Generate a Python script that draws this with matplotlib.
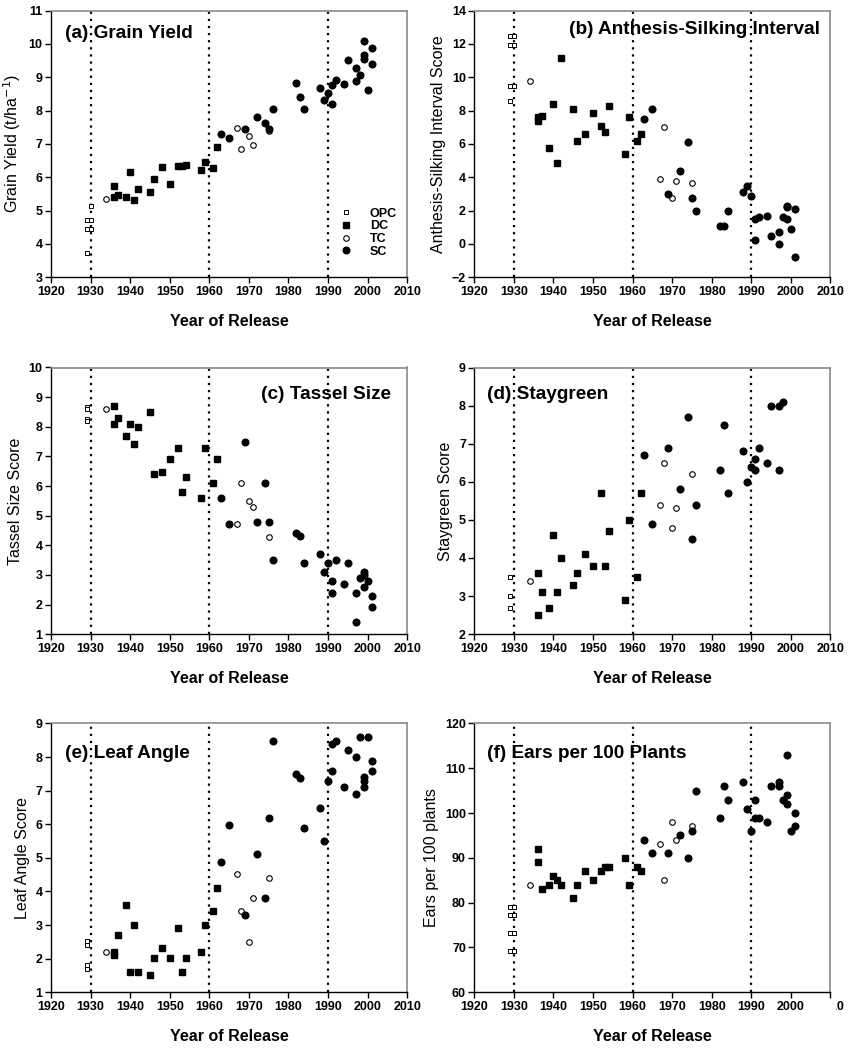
import matplotlib
matplotlib.use('Agg')
import matplotlib.pyplot as plt
from matplotlib.transforms import Bbox, TransformedBbox

plt.rcParams['font.family'] = ['Liberation Sans', 'DejaVu Sans']

# ---- (a) Grain yield ----
gy_opc_x = [1929, 1929, 1929, 1930, 1930, 1930]
gy_opc_y = [4.72, 4.45, 3.72, 5.15, 4.72, 4.45]
gy_dc_x = [1936, 1936, 1937, 1939, 1940, 1941, 1942, 1945, 1946, 1948, 1950, 1952, 1953, 1954, 1958, 1959, 1961, 1962]
gy_dc_y = [5.75, 5.42, 5.48, 5.40, 6.15, 5.33, 5.65, 5.56, 5.95, 6.32, 5.80, 6.35, 6.35, 6.38, 6.21, 6.45, 6.27, 6.91]
gy_tc_x = [1934, 1967, 1968, 1970, 1971, 1975]
gy_tc_y = [5.36, 7.48, 6.85, 7.25, 6.98, 7.38]
gy_sc_x = [1963, 1965, 1969, 1972, 1974, 1975, 1976, 1982, 1983, 1984, 1988, 1989, 1990, 1991, 1991, 1992,
           1994, 1995, 1997, 1997, 1998, 1999, 1999, 1999, 2000, 2001, 2001]
gy_sc_y = [7.30, 7.19, 7.44, 7.82, 7.63, 7.45, 8.05, 8.84, 8.41, 8.05, 8.69, 8.31, 8.53, 8.77, 8.21, 8.93,
           8.79, 9.51, 9.28, 8.88, 9.07, 10.10, 9.68, 9.55, 8.63, 9.88, 9.41]

# ---- (b) Anthesis-silking interval ----
asi_opc_x = [1929, 1929, 1929, 1929, 1930, 1930, 1930]
asi_opc_y = [12.45, 11.95, 9.5, 8.6, 12.45, 11.95, 9.5]
asi_dc_x = [1936, 1936, 1937, 1939, 1940, 1941, 1942, 1945, 1946, 1948, 1950, 1952, 1953, 1954, 1958, 1959, 1961, 1962]
asi_dc_y = [7.38, 7.62, 7.68, 5.77, 8.40, 4.85, 11.17, 8.10, 6.19, 6.59, 7.88, 7.07, 6.69, 8.30, 5.37, 7.62, 6.19, 6.59]
asi_tc_x = [1934, 1967, 1968, 1970, 1971, 1975]
asi_tc_y = [9.78, 3.88, 6.99, 2.78, 3.78, 3.68]
asi_sc_x = [1963, 1965, 1969, 1972, 1974, 1975, 1976, 1982, 1983, 1984, 1988, 1989, 1990, 1991, 1991, 1992,
            1994, 1995, 1997, 1997, 1998, 1999, 1999, 1999, 2000, 2001, 2001]
asi_sc_y = [7.48, 8.10, 3.00, 4.40, 6.09, 2.78, 2.00, 1.09, 1.09, 2.00, 3.10, 3.50, 2.90, 1.49, 0.21, 1.59,
            1.69, 0.49, 0.69, 0.00, 1.59, 1.49, 2.30, 2.20, 0.89, 2.08, -0.80]

# ---- (c) Tassel size ----
ts_opc_x = [1929, 1929, 1929, 1929]
ts_opc_y = [8.66, 8.60, 8.26, 8.20]
ts_dc_x = [1936, 1936, 1937, 1939, 1940, 1941, 1942, 1945, 1946, 1948, 1950, 1952, 1953, 1954, 1958, 1959, 1961, 1962]
ts_dc_y = [8.69, 8.11, 8.30, 7.69, 8.11, 7.41, 8.00, 8.49, 6.39, 6.49, 6.91, 7.30, 5.80, 6.29, 5.60, 7.30, 6.10, 6.91]
ts_tc_x = [1934, 1967, 1968, 1970, 1971, 1975]
ts_tc_y = [8.60, 4.71, 6.10, 5.50, 5.29, 4.28]
ts_sc_x = [1963, 1965, 1969, 1972, 1974, 1975, 1976, 1982, 1983, 1984, 1988, 1989, 1990, 1991, 1991, 1992,
           1994, 1995, 1997, 1997, 1998, 1999, 1999, 1999, 2000, 2001, 2001]
ts_sc_y = [5.60, 4.71, 7.50, 4.80, 6.10, 4.80, 3.50, 4.40, 4.31, 3.40, 3.70, 3.11, 3.40, 2.80, 2.40, 3.50,
           2.70, 3.40, 2.40, 1.40, 2.91, 3.11, 3.00, 2.60, 2.80, 2.30, 1.91]

# ---- (d) Staygreen ----
sg_opc_x = [1929, 1929, 1929]
sg_opc_y = [3.50, 2.99, 2.70]
sg_dc_x = [1936, 1936, 1937, 1939, 1940, 1941, 1942, 1945, 1946, 1948, 1950, 1952, 1953, 1954, 1958, 1959, 1961, 1962]
sg_dc_y = [3.60, 2.50, 3.10, 2.70, 4.60, 3.10, 4.00, 3.30, 3.60, 4.10, 3.80, 5.70, 3.80, 4.70, 2.90, 5.00, 3.50, 5.70]
sg_tc_x = [1934, 1967, 1968, 1970, 1971, 1975]
sg_tc_y = [3.40, 5.40, 6.50, 4.80, 5.30, 6.20]
sg_sc_x = [1963, 1965, 1969, 1972, 1974, 1975, 1976, 1982, 1983, 1984, 1988, 1989, 1990, 1991, 1991, 1992,
           1994, 1995, 1997, 1997, 1998]
sg_sc_y = [6.70, 4.90, 6.90, 5.80, 7.70, 4.50, 5.40, 6.30, 7.50, 5.70, 6.80, 6.00, 6.40, 6.60, 6.30, 6.90,
           6.50, 8.00, 6.30, 8.00, 8.09]

# ---- (e) Leaf angle ----
la_opc_x = [1929, 1929, 1929, 1929]
la_opc_y = [2.53, 2.41, 1.81, 1.70]
la_dc_x = [1936, 1936, 1937, 1939, 1940, 1941, 1942, 1945, 1946, 1948, 1950, 1952, 1953, 1954, 1958, 1959, 1961, 1962]
la_dc_y = [2.21, 2.11, 2.70, 3.60, 1.61, 3.01, 1.61, 1.52, 2.01, 2.31, 2.01, 2.90, 1.61, 2.01, 2.21, 3.01, 3.41, 4.10]
la_tc_x = [1934, 1967, 1968, 1970, 1971, 1975]
la_tc_y = [2.21, 4.51, 3.41, 2.51, 3.80, 4.41]
la_sc_x = [1963, 1965, 1969, 1972, 1974, 1975, 1976, 1982, 1983, 1984, 1988, 1989, 1990, 1991, 1991, 1992,
           1994, 1995, 1997, 1997, 1998, 1999, 1999, 1999, 2000, 2001, 2001]
la_sc_y = [4.89, 5.99, 3.30, 5.10, 3.80, 6.19, 8.49, 7.49, 7.39, 5.90, 6.49, 5.50, 7.28, 8.38, 7.59, 8.49,
           7.10, 8.20, 8.00, 6.89, 8.59, 7.40, 7.30, 7.10, 8.59, 7.89, 7.59]

# ---- (f) Ears per 100 plants ----
ep_opc_x = [1929, 1929, 1929, 1929, 1930, 1930, 1930, 1930]
ep_opc_y = [79.0, 77.2, 73.2, 69.1, 79.0, 77.2, 73.2, 69.1]
ep_dc_x = [1936, 1936, 1937, 1939, 1940, 1941, 1942, 1945, 1946, 1948, 1950, 1952, 1953, 1954, 1958, 1959, 1961, 1962]
ep_dc_y = [92, 89, 83, 84, 86, 85, 84, 81, 84, 87, 85, 87, 88, 88, 90, 84, 88, 87]
ep_tc_x = [1934, 1967, 1968, 1970, 1971, 1975]
ep_tc_y = [84, 93, 85, 98, 94, 97]
ep_sc_x = [1963, 1965, 1969, 1972, 1974, 1975, 1976, 1982, 1983, 1984, 1988, 1989, 1990, 1991, 1991, 1992,
           1994, 1995, 1997, 1997, 1998, 1999, 1999, 1999, 2000, 2001, 2001]
ep_sc_y = [94, 91, 91, 95, 90, 96, 105, 99, 106, 103, 107, 101, 96, 103, 99, 99,
           98, 106, 107, 106, 103, 113, 104, 102, 96, 100, 97]

era_lines = [1930, 1960, 1990]
year_ticks = [1920, 1930, 1940, 1950, 1960, 1970, 1980, 1990, 2000, 2010]

fig = plt.figure(figsize=(8.5, 10.5), dpi=100)

# axes boxes in figure fraction [left, bottom, width, height]
pos_left = 0.060
pos_right = 0.558
ax_w = 0.419
rows = [(0.736, 0.254), (0.396, 0.254), (0.055, 0.256)]

panels = [
    dict(pos=(pos_left, *rows[0]), ylim=(3, 11), yticks=range(3, 12),
         ylabel='Grain Yield (t/ha$^{-1}$)', title='(a) Grain Yield', tpos=(0.04, 0.915), ha='left',
         data=(gy_opc_x, gy_opc_y, gy_dc_x, gy_dc_y, gy_tc_x, gy_tc_y, gy_sc_x, gy_sc_y)),
    dict(pos=(pos_right, *rows[0]), ylim=(-2, 14), yticks=range(-2, 15, 2),
         ylabel='Anthesis-Silking Interval Score', title='(b) Anthesis-Silking Interval', tpos=(0.97, 0.93), ha='right',
         data=(asi_opc_x, asi_opc_y, asi_dc_x, asi_dc_y, asi_tc_x, asi_tc_y, asi_sc_x, asi_sc_y)),
    dict(pos=(pos_left, *rows[1]), ylim=(1, 10), yticks=range(1, 11),
         ylabel='Tassel Size Score', title='(c) Tassel Size', tpos=(0.955, 0.90), ha='right',
         data=(ts_opc_x, ts_opc_y, ts_dc_x, ts_dc_y, ts_tc_x, ts_tc_y, ts_sc_x, ts_sc_y)),
    dict(pos=(pos_right, *rows[1]), ylim=(2, 9), yticks=range(2, 10),
         ylabel='Staygreen Score', title='(d) Staygreen', tpos=(0.036, 0.90), ha='left',
         data=(sg_opc_x, sg_opc_y, sg_dc_x, sg_dc_y, sg_tc_x, sg_tc_y, sg_sc_x, sg_sc_y)),
    dict(pos=(pos_left, *rows[2]), ylim=(1, 9), yticks=range(1, 10),
         ylabel='Leaf Angle Score', title='(e) Leaf Angle', tpos=(0.04, 0.89), ha='left',
         data=(la_opc_x, la_opc_y, la_dc_x, la_dc_y, la_tc_x, la_tc_y, la_sc_x, la_sc_y)),
    dict(pos=(pos_right, *rows[2]), ylim=(60, 120), yticks=range(60, 121, 10),
         ylabel='Ears per 100 plants', title='(f) Ears per 100 Plants', tpos=(0.036, 0.89), ha='left',
         data=(ep_opc_x, ep_opc_y, ep_dc_x, ep_dc_y, ep_tc_x, ep_tc_y, ep_sc_x, ep_sc_y)),
]

axes = []
for p in panels:
    l, b, h = p['pos']
    ax = fig.add_axes([l, b, ax_w, h])
    axes.append(ax)
    opc_x, opc_y, dc_x, dc_y, tc_x, tc_y, sc_x, sc_y = p['data']

    for yr in era_lines:
        ax.axvline(yr, color='black', linestyle=(0, (1, 2.2)), linewidth=1.6, zorder=1)

    ax.plot(opc_x, opc_y, 's', ms=3.0, mfc='white', mec='black', mew=0.7, label='OPC', zorder=3)
    ax.plot(dc_x, dc_y, 's', ms=4.0, mfc='black', mec='black', label='DC', zorder=3)
    ax.plot(tc_x, tc_y, 'o', ms=4.0, mfc='white', mec='black', mew=0.8, label='TC', zorder=3)
    ax.plot(sc_x, sc_y, 'o', ms=4.8, mfc='black', mec='black', label='SC', zorder=3)

    ax.set_xlim(1920, 2010)
    ax.set_ylim(*p['ylim'])
    ax.set_xticks(year_ticks)
    ax.set_yticks(list(p['yticks']))
    for lab in ax.get_xticklabels() + ax.get_yticklabels():
        lab.set_fontweight('bold')
    ax.tick_params(direction='out', length=4, width=1, labelsize=9, pad=2,
                   top=False, right=False)
    ax.spines['left'].set_linewidth(1.0)
    ax.spines['bottom'].set_linewidth(1.0)
    ax.spines['top'].set_color('#8a8a8a')
    ax.spines['right'].set_color('#8a8a8a')
    ax.spines['top'].set_linewidth(1.2)
    ax.spines['right'].set_linewidth(1.2)

    ax.set_xlabel('Year of Release', fontsize=11.5, fontweight='bold', labelpad=12)
    ax.set_ylabel(p['ylabel'], fontsize=11.5, labelpad=4)
    ax.text(p['tpos'][0], p['tpos'][1], p['title'], transform=ax.transAxes,
            fontsize=13.7, fontweight='bold', ha=p['ha'], va='center', zorder=5)

# legend in panel (a)
leg = axes[0].legend(loc='lower left', bbox_to_anchor=(0.79, 0.045), frameon=False,
                     prop={'size': 9, 'weight': 'bold'}, handletextpad=1.4,
                     labelspacing=0.05, borderpad=0.1, handlelength=1.0)

# last year label of panel (f) is cut at the page edge in the original
fig.canvas.draw()
last = axes[5].get_xticklabels()[-1]
last.set_clip_on(True)
last.set_clip_box(TransformedBbox(Bbox([[0.984, 0.0], [1.0, 1.0]]), fig.transFigure))

fig.savefig('out.png', dpi=100)
